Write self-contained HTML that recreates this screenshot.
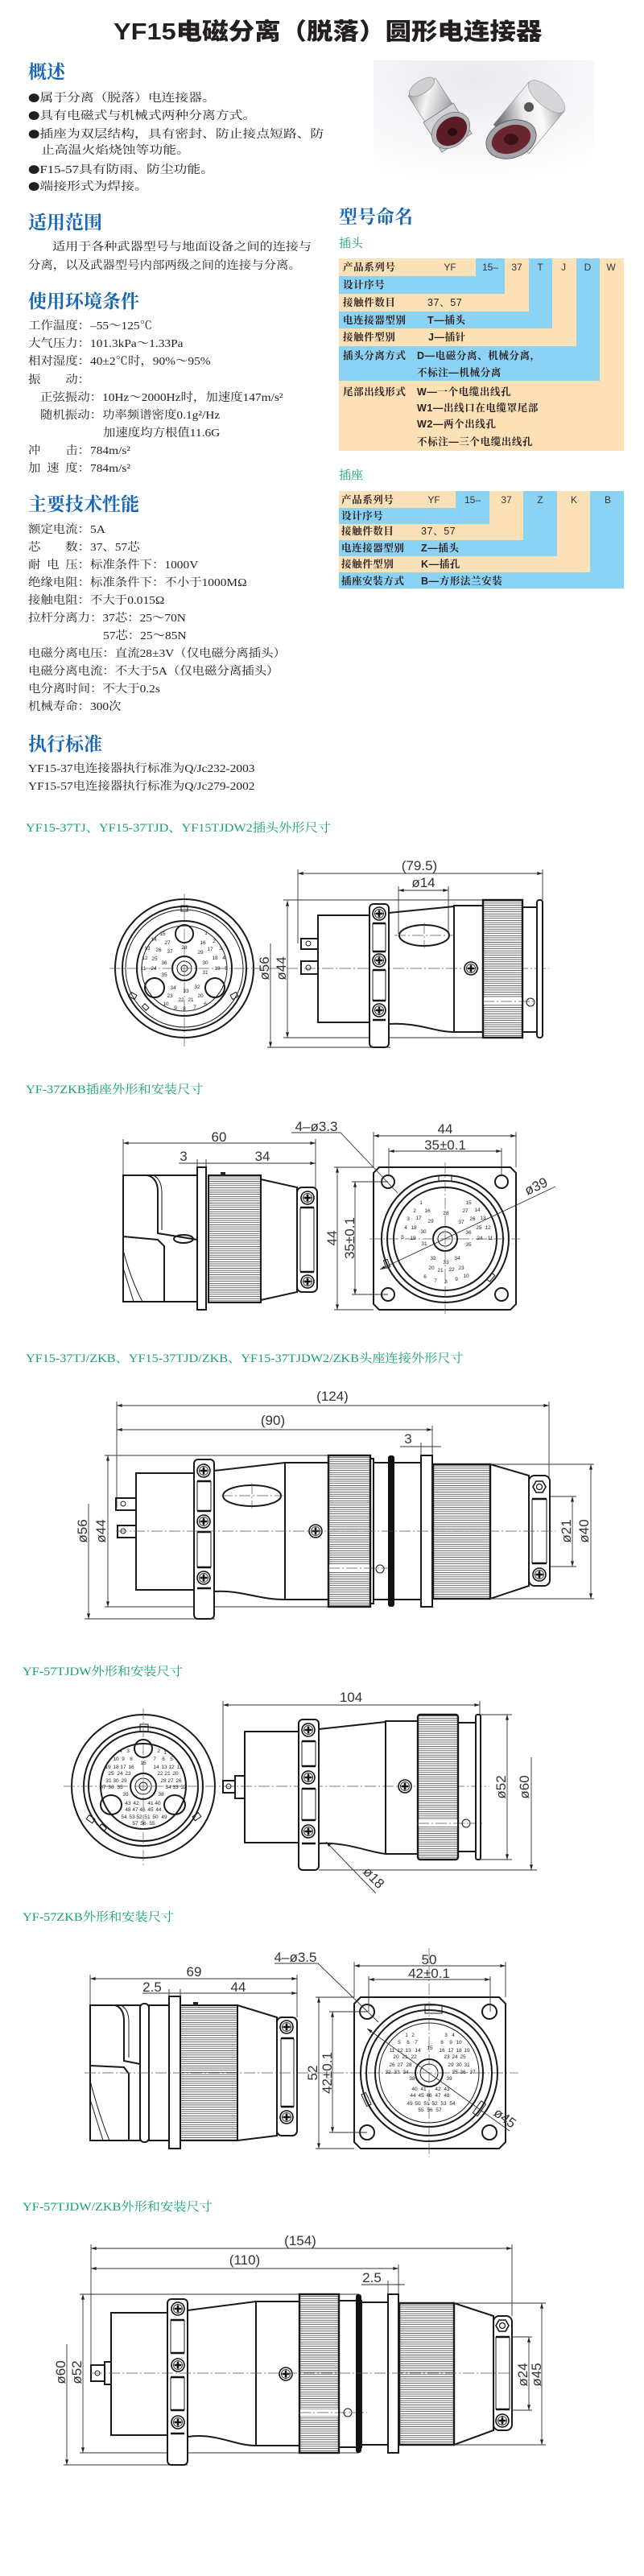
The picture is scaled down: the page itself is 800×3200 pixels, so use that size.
<!DOCTYPE html>
<html><head><meta charset="utf-8">
<style>
html,body{margin:0;padding:0;background:#fff;}
body{width:800px;height:3200px;position:relative;overflow:hidden;}
.a{position:absolute;white-space:nowrap;}
.b{font-family:"Liberation Serif","Noto Serif CJK SC",serif;font-size:14px;line-height:20px;color:#231f20;transform:scaleX(1.1);transform-origin:0 50%;}
.bl{transform:scaleX(1.2);}
.bu{font-family:"Noto Sans CJK SC",sans-serif;font-size:12px;}
.h{font-family:"Noto Serif CJK SC","Noto Sans CJK SC",serif;font-weight:700;font-size:23px;line-height:28px;color:#1767b3;}
.g{font-family:"Liberation Serif","Noto Serif CJK SC",serif;font-size:15px;line-height:20px;color:#16a36c;transform:scaleX(1.08);transform-origin:0 50%;}
.gs{font-family:"Noto Serif CJK SC",serif;font-size:15px;line-height:20px;color:#16a36c;}
.tb{font-family:"Liberation Sans","Noto Serif CJK SC",serif;font-weight:700;font-size:12.5px;line-height:20px;letter-spacing:0.6px;color:#2a2020;}
.tl{font-family:"Liberation Sans",sans-serif;font-size:12px;line-height:20px;color:#333;text-align:center;}
.O{position:absolute;background:#fde1b6;}
.B{position:absolute;background:#8ad3f5;}
svg text{font-family:"Liberation Sans",sans-serif;}
.dt{font-size:17px;fill:#333;}
.pn{font-size:6.5px;fill:#222;text-anchor:middle;}
.o{fill:none;stroke:#1a1a1a;stroke-width:2;}
.ow{fill:#fff;stroke:#1a1a1a;stroke-width:2;}
.t{fill:none;stroke:#1a1a1a;stroke-width:1;}
.d{fill:none;stroke:#333;stroke-width:0.9;}
.c{fill:none;stroke:#555;stroke-width:0.7;stroke-dasharray:14 3 2 3;}
</style></head><body>

<div class="a" style="left:141px;top:20px;font-family:'Liberation Sans','Noto Sans CJK SC',sans-serif;font-weight:900;font-size:29px;line-height:40px;color:#231f20;transform:scaleX(1.12);transform-origin:0 50%;">YF15电磁分离（脱落）圆形电连接器</div>

<div class="a h" style="left:35px;top:74px;">概述</div>
<div class="a b bl" style="left:35px;top:112px;"><span class="bu">●</span>属于分离（脱落）电连接器。</div>
<div class="a b bl" style="left:35px;top:134px;"><span class="bu">●</span>具有电磁式与机械式两种分离方式。</div>
<div class="a b bl" style="left:35px;top:157px;"><span class="bu">●</span>插座为双层结构，具有密封、防止接点短路、防</div>
<div class="a b bl" style="left:51px;top:178px;">止高温火焰烧蚀等功能。</div>
<div class="a b bl" style="left:35px;top:201px;"><span class="bu">●</span>F15-57具有防雨、防尘功能。</div>
<div class="a b bl" style="left:35px;top:222px;"><span class="bu">●</span>端接形式为焊接。</div>

<div class="a h" style="left:35px;top:261px;">适用范围</div>
<div class="a b" style="left:65px;top:298px;transform:scaleX(1.15);">适用于各种武器型号与地面设备之间的连接与</div>
<div class="a b" style="left:35px;top:321px;">分离，以及武器型号内部两级之间的连接与分离。</div>

<div class="a h" style="left:35px;top:359px;">使用环境条件</div>
<div class="a b" style="left:35px;top:396px;">工作温度：–55～125℃</div>
<div class="a b" style="left:35px;top:418px;">大气压力：101.3kPa～1.33Pa</div>
<div class="a b" style="left:35px;top:440px;">相对湿度：40±2℃时，90%～95%</div>
<div class="a b" style="left:35px;top:463px;">振　　动：</div>
<div class="a b" style="left:50px;top:485px;">正弦振动：10Hz～2000Hz时，加速度147m/s²</div>
<div class="a b" style="left:50px;top:507px;">随机振动：功率频谱密度0.1g²/Hz</div>
<div class="a b" style="left:128px;top:529px;">加速度均方根值11.6G</div>
<div class="a b" style="left:35px;top:551px;">冲　　击：784m/s²</div>
<div class="a b" style="left:35px;top:573px;">加&ensp;速&ensp;度：784m/s²</div>

<div class="a h" style="left:35px;top:611px;">主要技术性能</div>
<div class="a b" style="left:35px;top:649px;">额定电流：5A</div>
<div class="a b" style="left:35px;top:671px;">芯　　数：37、57芯</div>
<div class="a b" style="left:35px;top:693px;">耐&ensp;电&ensp;压：标准条件下：1000V</div>
<div class="a b" style="left:35px;top:715px;">绝缘电阻：标准条件下：不小于1000MΩ</div>
<div class="a b" style="left:35px;top:737px;">接触电阻：不大于0.015Ω</div>
<div class="a b" style="left:35px;top:759px;">拉杆分离力：37芯：25～70N</div>
<div class="a b" style="left:128px;top:781px;">57芯：25～85N</div>
<div class="a b" style="left:35px;top:803px;">电磁分离电压：直流28±3V（仅电磁分离插头）</div>
<div class="a b" style="left:35px;top:825px;">电磁分离电流：不大于5A（仅电磁分离插头）</div>
<div class="a b" style="left:35px;top:847px;">电分离时间：不大于0.2s</div>
<div class="a b" style="left:35px;top:869px;">机械寿命：300次</div>

<div class="a h" style="left:35px;top:909px;">执行标准</div>
<div class="a b" style="left:35px;top:946px;">YF15-37电连接器执行标准为Q/Jc232-2003</div>
<div class="a b" style="left:35px;top:968px;">YF15-57电连接器执行标准为Q/Jc279-2002</div>

<!-- 型号命名 -->
<div class="a h" style="left:421px;top:254px;">型号命名</div>
<div class="a gs" style="left:421px;top:292px;">插头</div>

<div class="O" style="left:421px;top:321px;width:170px;height:22px;"></div>
<div class="B" style="left:591px;top:321px;width:36px;height:22px;"></div>
<div class="B" style="left:421px;top:343px;width:206px;height:22px;"></div>
<div class="O" style="left:627px;top:321px;width:30px;height:44px;"></div>
<div class="O" style="left:421px;top:365px;width:236px;height:22px;"></div>
<div class="B" style="left:657px;top:321px;width:29px;height:66px;"></div>
<div class="B" style="left:421px;top:387px;width:265px;height:21px;"></div>
<div class="O" style="left:686px;top:321px;width:30px;height:87px;"></div>
<div class="O" style="left:421px;top:408px;width:295px;height:22px;"></div>
<div class="B" style="left:716px;top:321px;width:29px;height:109px;"></div>
<div class="B" style="left:421px;top:430px;width:324px;height:43px;"></div>
<div class="O" style="left:745px;top:321px;width:30px;height:152px;"></div>
<div class="O" style="left:421px;top:473px;width:354px;height:87px;"></div>

<div class="a tb" style="left:426px;top:322px;">产品系列号</div>
<div class="a tl" style="left:539px;top:322px;width:40px;">YF</div>
<div class="a tl" style="left:589px;top:322px;width:40px;">15–</div>
<div class="a tl" style="left:622px;top:322px;width:40px;">37</div>
<div class="a tl" style="left:651px;top:322px;width:40px;">T</div>
<div class="a tl" style="left:680px;top:322px;width:40px;">J</div>
<div class="a tl" style="left:710px;top:322px;width:40px;">D</div>
<div class="a tl" style="left:739px;top:322px;width:40px;">W</div>
<div class="a tb" style="left:426px;top:344px;">设计序号</div>
<div class="a tb" style="left:426px;top:366px;">接触件数目</div>
<div class="a tb" style="left:531px;top:366px;font-weight:400;">37、57</div>
<div class="a tb" style="left:426px;top:388px;">电连接器型别</div>
<div class="a tb" style="left:531px;top:388px;">T—插头</div>
<div class="a tb" style="left:426px;top:409px;">接触件型别</div>
<div class="a tb" style="left:532px;top:409px;">J—插针</div>
<div class="a tb" style="left:426px;top:432px;">插头分离方式</div>
<div class="a tb" style="left:518px;top:432px;">D—电磁分离、机械分离，</div>
<div class="a tb" style="left:518px;top:453px;">不标注—机械分离</div>
<div class="a tb" style="left:426px;top:477px;">尾部出线形式</div>
<div class="a tb" style="left:518px;top:477px;">W—一个电缆出线孔</div>
<div class="a tb" style="left:518px;top:497px;">W1—出线口在电缆罩尾部</div>
<div class="a tb" style="left:518px;top:517px;">W2—两个出线孔</div>
<div class="a tb" style="left:518px;top:539px;">不标注—三个电缆出线孔</div>

<div class="a gs" style="left:421px;top:580px;">插座</div>
<div class="O" style="left:421px;top:610px;width:145px;height:21px;"></div>
<div class="B" style="left:566px;top:610px;width:42px;height:21px;"></div>
<div class="B" style="left:421px;top:631px;width:187px;height:20px;"></div>
<div class="O" style="left:608px;top:610px;width:42px;height:41px;"></div>
<div class="O" style="left:421px;top:651px;width:229px;height:20px;"></div>
<div class="B" style="left:650px;top:610px;width:42px;height:61px;"></div>
<div class="B" style="left:421px;top:671px;width:271px;height:20px;"></div>
<div class="O" style="left:692px;top:610px;width:41px;height:81px;"></div>
<div class="O" style="left:421px;top:691px;width:312px;height:20px;"></div>
<div class="B" style="left:733px;top:610px;width:42px;height:101px;"></div>
<div class="B" style="left:421px;top:711px;width:354px;height:20px;"></div>

<div class="a tb" style="left:424px;top:611px;">产品系列号</div>
<div class="a tl" style="left:519px;top:611px;width:40px;">YF</div>
<div class="a tl" style="left:567px;top:611px;width:40px;">15–</div>
<div class="a tl" style="left:609px;top:611px;width:40px;">37</div>
<div class="a tl" style="left:651px;top:611px;width:40px;">Z</div>
<div class="a tl" style="left:693px;top:611px;width:40px;">K</div>
<div class="a tl" style="left:735px;top:611px;width:40px;">B</div>
<div class="a tb" style="left:424px;top:631px;">设计序号</div>
<div class="a tb" style="left:424px;top:650px;">接触件数目</div>
<div class="a tb" style="left:523px;top:650px;font-weight:400;">37、57</div>
<div class="a tb" style="left:424px;top:671px;">电连接器型别</div>
<div class="a tb" style="left:523px;top:671px;">Z—插头</div>
<div class="a tb" style="left:424px;top:691px;">接触件型别</div>
<div class="a tb" style="left:523px;top:691px;">K—插孔</div>
<div class="a tb" style="left:424px;top:712px;">插座安装方式</div>
<div class="a tb" style="left:523px;top:712px;">B—方形法兰安装</div>

<!-- captions -->
<div class="a g" style="left:32px;top:1019px;">YF15-37TJ、YF15-37TJD、YF15TJDW2插头外形尺寸</div>
<div class="a g" style="left:32px;top:1344px;">YF-37ZKB插座外形和安装尺寸</div>
<div class="a g" style="left:32px;top:1678px;">YF15-37TJ/ZKB、YF15-37TJD/ZKB、YF15-37TJDW2/ZKB头座连接外形尺寸</div>
<div class="a g" style="left:28px;top:2067px;">YF-57TJDW外形和安装尺寸</div>
<div class="a g" style="left:28px;top:2372px;">YF-57ZKB外形和安装尺寸</div>
<div class="a g" style="left:28px;top:2732px;">YF-57TJDW/ZKB外形和安装尺寸</div>

<!-- photo -->
<svg style="position:absolute;left:464px;top:75px" width="274" height="147" xmlns="http://www.w3.org/2000/svg">
<defs>
<radialGradient id="pbg" cx="0.45" cy="0.15" r="0.9"><stop offset="0" stop-color="#e9e8ee"/><stop offset="0.5" stop-color="#f5f5f8"/><stop offset="1" stop-color="#ffffff"/></radialGradient>
<linearGradient id="pm1" x1="0" y1="0" x2="1" y2="0.3"><stop offset="0" stop-color="#8a8a8e"/><stop offset=".4" stop-color="#f4f4f4"/><stop offset=".75" stop-color="#b4b4b8"/><stop offset="1" stop-color="#6e6e72"/></linearGradient>
<linearGradient id="pm2" x1="0" y1="0.2" x2="1" y2="0"><stop offset="0" stop-color="#707074"/><stop offset=".35" stop-color="#e9e9ec"/><stop offset=".6" stop-color="#fafafa"/><stop offset="1" stop-color="#8a8a90"/></linearGradient>
</defs>
<rect width="274" height="147" fill="url(#pbg)"/>
<polygon points="43,44 77,22 112,76 78,98" fill="url(#pm1)" stroke="#777" stroke-width="0.6"/>
<polygon points="99,53 122,91 85,114 62,77" fill="#d4d4d8" stroke="#777" stroke-width="0.8"/>
<ellipse cx="96" cy="87" rx="26" ry="20" transform="rotate(-40 96 87)" fill="#b5b5ba" stroke="#666" stroke-width="0.6"/>
<ellipse cx="97" cy="88" rx="21" ry="16" transform="rotate(-40 97 88)" fill="#5c1c26"/>
<ellipse cx="98" cy="89" rx="6" ry="5" fill="#2a0d10"/>
<ellipse cx="60" cy="33" rx="18" ry="8" transform="rotate(-33 60 33)" fill="#cfcfd3" stroke="#888" stroke-width="0.6"/>
<polygon points="149,80 193,27 237,63 193,116" fill="url(#pm2)" stroke="#888" stroke-width="0.6"/>
<ellipse cx="215" cy="45" rx="28" ry="12" transform="rotate(40 215 45)" fill="#d6d6da" stroke="#999" stroke-width="0.6"/>
<ellipse cx="171" cy="98" rx="32" ry="23" transform="rotate(-20 171 98)" fill="#a4a4aa" stroke="#555" stroke-width="0.8"/>
<ellipse cx="171" cy="98" rx="25" ry="17" transform="rotate(-20 171 98)" fill="#6a2630"/>
<ellipse cx="171" cy="98" rx="9" ry="7" fill="#3a1418"/>
<circle cx="193" cy="58" r="6" fill="#555"/>
</svg>

<!-- drawings -->
<svg style="position:absolute;left:0;top:0" width="800" height="3200" xmlns="http://www.w3.org/2000/svg">
<defs>
<marker id="ar" viewBox="0 0 10 6" refX="10" refY="3" markerWidth="8" markerHeight="4" markerUnits="userSpaceOnUse" orient="auto-start-reverse"><path d="M0,0L10,3L0,6z" fill="#222"/></marker>
<pattern id="kn" width="6" height="2.7" patternUnits="userSpaceOnUse"><rect width="6" height="2.7" fill="#fff"/><line x1="0" y1="1.3" x2="6" y2="1.3" stroke="#444" stroke-width="0.8"/></pattern>
<g id="sc"><circle r="8" fill="#fff" stroke="#111" stroke-width="1.6"/><circle r="5.5" fill="none" stroke="#111" stroke-width="0.8"/><path d="M-4.5,0H4.5M0,-4.5V4.5" stroke="#111" stroke-width="2.6"/></g>
<g id="hx"><polygon points="-8,0 -4,-7 4,-7 8,0 4,7 -4,7" fill="#fff" stroke="#111" stroke-width="1.6"/><circle r="3.5" fill="none" stroke="#111" stroke-width="1.2"/></g>
</defs>

<!-- ===== Drawing 1 ===== -->
<g>
<circle cx="229" cy="1203" r="86" class="o"/>
<circle cx="229" cy="1203" r="77" class="o" stroke-width="1.5"/>
<circle cx="229" cy="1203" r="73" class="t"/>
<circle cx="229" cy="1203" r="59" class="o"/>
<circle cx="229" cy="1203" r="53" class="t"/>
<circle cx="229" cy="1160" r="11" class="o" stroke-width="1.5"/>
<circle cx="192" cy="1227" r="12" class="o" stroke-width="1.5"/>
<circle cx="267" cy="1227" r="12" class="o" stroke-width="1.5"/>
<circle cx="229" cy="1203" r="15" class="o" stroke-width="4"/>
<circle cx="229" cy="1203" r="9" class="t" stroke-width="1.2"/>
<circle cx="229" cy="1203" r="4" class="t"/>
<rect x="225" y="1125" width="8" height="7" class="t" stroke-width="1.3"/>
<rect x="162" y="1233" width="6" height="8" class="t" transform="rotate(-60 165 1237)"/>
<rect x="288" y="1233" width="6" height="8" class="t" transform="rotate(60 291 1237)"/>
<rect x="178" y="1248" width="5" height="7" class="t" transform="rotate(-45 180 1251)"/>
<line x1="136" y1="1203" x2="682" y2="1203" class="c"/>
<line x1="229" y1="1110" x2="229" y2="1300" class="c"/>
<g class="pn">
<text x="202" y="1162">15</text><text x="256" y="1161">1</text><text x="191" y="1169">14</text><text x="266" y="1171">2</text>
<text x="183" y="1180">13</text><text x="274" y="1180">3</text><text x="180" y="1192">12</text><text x="278" y="1192">4</text>
<text x="178" y="1205">11</text><text x="281" y="1205">5</text><text x="206" y="1249">10</text><text x="218" y="1254">9</text>
<text x="229" y="1255">8</text><text x="242" y="1253">7</text><text x="255" y="1249">6</text>
<text x="208" y="1173">27</text><text x="252" y="1173">16</text><text x="197" y="1182">26</text><text x="261" y="1181">17</text>
<text x="192" y="1193">25</text><text x="267" y="1192">18</text><text x="191" y="1205">24</text><text x="270" y="1205">19</text>
<text x="211" y="1239">23</text><text x="225" y="1244">22</text><text x="237" y="1244">21</text><text x="249" y="1239">20</text>
<text x="229" y="1179">28</text><text x="211" y="1184">37</text><text x="249" y="1185">29</text><text x="204" y="1198">36</text>
<text x="255" y="1198">30</text><text x="204" y="1213">35</text><text x="255" y="1210">31</text><text x="215" y="1229">34</text>
<text x="231" y="1233">33</text><text x="245" y="1228">32</text>
</g>
<!-- side view -->
<line x1="370" y1="1085" x2="674" y2="1085" class="d" marker-start="url(#ar)" marker-end="url(#ar)"/>
<line x1="370" y1="1080" x2="370" y2="1172" class="d"/>
<line x1="674" y1="1080" x2="674" y2="1118" class="d"/>
<text x="521" y="1081" class="dt" text-anchor="middle" font-size="18">(79.5)</text>
<line x1="495" y1="1106" x2="557" y2="1106" class="d" marker-start="url(#ar)" marker-end="url(#ar)"/>
<line x1="495" y1="1101" x2="495" y2="1160" class="d"/>
<line x1="557" y1="1101" x2="557" y2="1160" class="d"/>
<text x="526" y="1102" class="dt" text-anchor="middle">ø14</text>
<line x1="336" y1="1172" x2="336" y2="1301" class="d" marker-end="url(#ar)"/>
<line x1="357" y1="1119" x2="357" y2="1289" class="d" marker-start="url(#ar)" marker-end="url(#ar)"/>
<text transform="translate(334,1203) rotate(-90)" class="dt" text-anchor="middle">ø56</text>
<text transform="translate(355,1203) rotate(-90)" class="dt" text-anchor="middle">ø44</text>
<line x1="352" y1="1118" x2="600" y2="1118" class="d"/>
<line x1="352" y1="1289" x2="600" y2="1289" class="d"/>
<line x1="332" y1="1301" x2="485" y2="1301" class="d"/>
<rect x="374" y="1166" width="21" height="13" class="o" stroke-width="1.5"/>
<circle cx="383" cy="1172" r="3" class="t"/>
<rect x="374" y="1194" width="21" height="16" class="o" stroke-width="1.5"/>
<circle cx="383" cy="1202" r="3" class="t"/>
<rect x="395" y="1137" width="65" height="133" class="o"/>
<path d="M483,1134 L564,1126 M483,1272 C520,1270 540,1282 564,1282" class="o"/>
<ellipse cx="527" cy="1162" rx="31" ry="13" class="o"/>
<line x1="490" y1="1162" x2="564" y2="1162" class="c"/>
<line x1="527" y1="1146" x2="527" y2="1178" class="c"/>
<rect x="564" y="1125" width="36" height="157" class="o"/>
<use href="#sc" x="585" y="1203"/>
<rect x="600" y="1118" width="49" height="171" fill="url(#kn)" stroke="#1a1a1a" stroke-width="2.4"/>
<rect x="601" y="1240" width="47" height="8" fill="#fff"/>
<line x1="600" y1="1244" x2="668" y2="1244" class="c"/>
<circle cx="659" cy="1245" r="5" class="t" fill="#fff"/>
<rect x="649" y="1127" width="18" height="155" class="o"/>
<rect x="667" y="1118" width="7" height="171" rx="3" class="ow"/>
<rect x="459" y="1123" width="24" height="178" rx="5" class="ow"/>
<path d="M463,1147 H479 M463,1182 H479 M463,1205 H479 M463,1243 H479 M463,1267 H479" stroke="#111" stroke-width="2.5"/>
<path d="M463,1147 V1182 M479,1147 V1182 M463,1205 V1243 M479,1205 V1243" class="t"/>
<use href="#sc" x="471" y="1135"/><use href="#sc" x="471" y="1193"/><use href="#sc" x="471" y="1255"/>
</g>

<!-- ===== Drawing 2 ===== -->
<g>
<line x1="153" y1="1420" x2="392" y2="1420" class="d" marker-start="url(#ar)" marker-end="url(#ar)"/>
<line x1="153" y1="1415" x2="153" y2="1460" class="d"/>
<line x1="392" y1="1415" x2="392" y2="1475" class="d"/>
<text x="272" y="1418" class="dt" text-anchor="middle">60</text>
<line x1="222" y1="1445" x2="392" y2="1445" class="d" marker-end="url(#ar)"/>
<line x1="245" y1="1440" x2="245" y2="1450" class="d"/>
<line x1="256" y1="1440" x2="256" y2="1450" class="d"/>
<text x="228" y="1442" class="dt" text-anchor="middle">3</text>
<text x="326" y="1442" class="dt" text-anchor="middle">34</text>
<rect x="153" y="1460" width="92" height="157" class="o"/>
<path d="M183,1460 C192,1462 196,1470 196,1480 L196,1532 L245,1540" class="o" stroke-width="1.5"/>
<path d="M190,1460 C198,1463 201,1472 201,1482 L201,1528" class="t"/>
<path d="M153,1536 L196,1540 L204,1548 L204,1617" class="o" stroke-width="1.5"/>
<path d="M153,1553 C160,1580 168,1600 177,1617" class="t"/>
<path d="M153,1575 L166,1617" class="t"/>
<ellipse cx="228" cy="1539" rx="12" ry="5" class="o" stroke-width="1.5"/>
<rect x="245" y="1450" width="11" height="177" class="ow"/>
<rect x="259" y="1460" width="65" height="158" fill="url(#kn)" stroke="#1a1a1a" stroke-width="2"/>
<rect x="274" y="1456" width="6" height="4" fill="#222"/>
<polygon points="324,1465 369,1475 369,1605 324,1615" class="o"/>
<rect x="369" y="1475" width="25" height="130" rx="6" class="ow"/>
<path d="M373,1500 V1580 M390,1500 V1580" class="t"/>
<path d="M373,1500 H390 M373,1580 H390" stroke="#111" stroke-width="2.5"/>
<use href="#sc" x="382" y="1488"/><use href="#sc" x="382" y="1592"/>
<!-- front -->
<polygon points="471,1450 634,1450 641,1457 641,1620 634,1627 471,1627 464,1620 464,1457" class="o"/>
<circle cx="482" cy="1468" r="8" class="o" stroke-width="1.5"/>
<circle cx="623" cy="1468" r="8" class="o" stroke-width="1.5"/>
<circle cx="482" cy="1608" r="8" class="o" stroke-width="1.5"/>
<circle cx="623" cy="1608" r="8" class="o" stroke-width="1.5"/>
<circle cx="553" cy="1539" r="79" class="o"/>
<circle cx="553" cy="1539" r="72" class="o" stroke-width="1.5"/>
<circle cx="553" cy="1539" r="64" class="o" stroke-width="1.5"/>
<rect x="545" y="1460" width="16" height="7" class="t" fill="#fff" stroke-width="1.3"/>
<rect x="478" y="1565" width="5" height="10" class="t" transform="rotate(-20 480 1570)"/>
<rect x="607" y="1582" width="5" height="10" class="t" transform="rotate(40 610 1587)"/>
<circle cx="553" cy="1539" r="15" class="o" stroke-width="5"/>
<circle cx="553" cy="1539" r="9" class="t"/>
<line x1="459" y1="1539" x2="646" y2="1539" class="c"/>
<line x1="553" y1="1444" x2="553" y2="1632" class="c"/>
<g class="pn">
<text x="523" y="1496">1</text><text x="582" y="1496">15</text><text x="515" y="1506">2</text><text x="531" y="1506">16</text>
<text x="554" y="1509">28</text><text x="578" y="1506">27</text><text x="593" y="1505">14</text><text x="507" y="1516">3</text>
<text x="520" y="1515">17</text><text x="535" y="1519">29</text><text x="573" y="1520">37</text><text x="587" y="1516">26</text>
<text x="600" y="1515">13</text><text x="504" y="1527">4</text><text x="514" y="1527">18</text><text x="526" y="1532">30</text>
<text x="582" y="1533">36</text><text x="595" y="1527">25</text><text x="606" y="1527">12</text><text x="500" y="1539">5</text>
<text x="513" y="1540">19</text><text x="527" y="1547">31</text><text x="596" y="1540">24</text><text x="609" y="1540">11</text>
<text x="582" y="1548">35</text><text x="538" y="1565">32</text><text x="554" y="1570">33</text><text x="568" y="1565">34</text>
<text x="536" y="1577">20</text><text x="547" y="1580">21</text><text x="561" y="1579">22</text><text x="573" y="1577">23</text>
<text x="528" y="1588">6</text><text x="541" y="1593">7</text><text x="554" y="1594">8</text><text x="567" y="1591">9</text><text x="579" y="1587">10</text>
</g>
<text x="393" y="1405" class="dt" text-anchor="middle" font-size="18">4–ø3.3</text>
<path d="M362,1407 H423 L494,1482" class="d"/>
<line x1="464" y1="1411" x2="641" y2="1411" class="d" marker-start="url(#ar)" marker-end="url(#ar)"/>
<line x1="464" y1="1406" x2="464" y2="1450" class="d"/>
<line x1="641" y1="1406" x2="641" y2="1450" class="d"/>
<text x="553" y="1408" class="dt" text-anchor="middle" font-size="18">44</text>
<line x1="483" y1="1430" x2="623" y2="1430" class="d" marker-start="url(#ar)" marker-end="url(#ar)"/>
<line x1="483" y1="1426" x2="483" y2="1460" class="d"/>
<line x1="623" y1="1426" x2="623" y2="1460" class="d"/>
<text x="553" y="1428" class="dt" text-anchor="middle" font-size="18">35±0.1</text>
<line x1="472" y1="1577" x2="690" y2="1474" class="d" marker-start="url(#ar)"/>
<text transform="translate(655,1485) rotate(-25)" class="dt" font-size="18">ø39</text>
<line x1="419" y1="1450" x2="419" y2="1627" class="d" marker-start="url(#ar)" marker-end="url(#ar)"/>
<line x1="415" y1="1450" x2="464" y2="1450" class="d"/>
<line x1="415" y1="1627" x2="464" y2="1627" class="d"/>
<text transform="translate(418,1538) rotate(-90)" class="dt" text-anchor="middle" font-size="18">44</text>
<line x1="441" y1="1468" x2="441" y2="1608" class="d" marker-start="url(#ar)" marker-end="url(#ar)"/>
<line x1="437" y1="1468" x2="482" y2="1468" class="d"/>
<line x1="437" y1="1608" x2="482" y2="1608" class="d"/>
<text transform="translate(440,1538) rotate(-90)" class="dt" text-anchor="middle" font-size="18">35±0.1</text>
</g>

<!-- ===== Drawing 3 ===== -->
<g>
<line x1="145" y1="1746" x2="682" y2="1746" class="d" marker-start="url(#ar)" marker-end="url(#ar)"/>
<text x="413" y="1740" class="dt" text-anchor="middle" font-size="18">(124)</text>
<line x1="145" y1="1776" x2="537" y2="1776" class="d" marker-start="url(#ar)" marker-end="url(#ar)"/>
<text x="339" y="1770" class="dt" text-anchor="middle" font-size="18">(90)</text>
<line x1="145" y1="1741" x2="145" y2="1873" class="d"/>
<line x1="682" y1="1741" x2="682" y2="1843" class="d"/>
<line x1="537" y1="1771" x2="537" y2="1808" class="d"/>
<line x1="497" y1="1797" x2="548" y2="1797" class="d"/>
<line x1="523" y1="1792" x2="523" y2="1808" class="d"/>
<text x="507" y="1793" class="dt" text-anchor="middle">3</text>
<line x1="110" y1="1868" x2="110" y2="2011" class="d" marker-end="url(#ar)"/>
<line x1="134" y1="1808" x2="134" y2="1996" class="d" marker-start="url(#ar)" marker-end="url(#ar)"/>
<text transform="translate(108,1902) rotate(-90)" class="dt" text-anchor="middle" font-size="18">ø56</text>
<text transform="translate(131,1902) rotate(-90)" class="dt" text-anchor="middle" font-size="18">ø44</text>
<line x1="130" y1="1808" x2="410" y2="1808" class="d"/>
<line x1="130" y1="1996" x2="410" y2="1996" class="d"/>
<line x1="105" y1="2011" x2="267" y2="2011" class="d"/>
<rect x="144" y="1861" width="25" height="15" class="o" stroke-width="1.5"/>
<circle cx="153" cy="1868" r="3" class="t"/>
<rect x="146" y="1895" width="23" height="15" class="o" stroke-width="1.5"/>
<circle cx="153" cy="1902" r="3" class="t"/>
<rect x="169" y="1830" width="72" height="145" class="o"/>
<path d="M266,1827 L354,1817 M266,1977 C300,1975 320,1987 354,1987" class="o"/>
<ellipse cx="313" cy="1858" rx="36" ry="13" class="o"/>
<line x1="275" y1="1858" x2="352" y2="1858" class="c"/>
<line x1="313" y1="1842" x2="313" y2="1874" class="c"/>
<rect x="354" y="1817" width="54" height="170" class="o"/>
<use href="#sc" x="392" y="1902"/>
<rect x="408" y="1808" width="52" height="188" fill="url(#kn)" stroke="#1a1a1a" stroke-width="2.4"/>
<rect x="409" y="1944" width="50" height="8" fill="#fff"/>
<line x1="408" y1="1948" x2="486" y2="1948" class="c"/>
<rect x="460" y="1812" width="4" height="180" class="o" stroke-width="1.5"/>
<rect x="464" y="1817" width="59" height="170" class="o"/>
<rect x="482" y="1808" width="8" height="188" rx="3" fill="#111"/>
<circle cx="472" cy="1949" r="5" class="t" fill="#fff"/>
<rect x="523" y="1808" width="14" height="188" class="ow"/>
<rect x="538" y="1819" width="71" height="167" fill="url(#kn)" stroke="#1a1a1a" stroke-width="2.4"/>
<polygon points="609,1819 657,1833 657,1970 609,1986" class="o"/>
<rect x="657" y="1833" width="26" height="137" rx="7" class="ow"/>
<path d="M661,1862 V1942 M679,1862 V1942" class="t"/>
<path d="M661,1862 H679 M661,1942 H679" stroke="#111" stroke-width="2.5"/>
<use href="#hx" x="670" y="1847"/><use href="#sc" x="670" y="1956"/>
<rect x="241" y="1813" width="25" height="198" rx="5" class="ow"/>
<path d="M245,1840 H262 M245,1877 H262 M245,1903 H262 M245,1947 H262 M245,1973 H262" stroke="#111" stroke-width="2.5"/>
<path d="M245,1840 V1877 M262,1840 V1877 M245,1903 V1947 M262,1903 V1947" class="t"/>
<use href="#sc" x="253" y="1827"/><use href="#sc" x="253" y="1890"/><use href="#sc" x="253" y="1960"/>
<line x1="144" y1="1902" x2="690" y2="1902" class="c"/>
<line x1="711" y1="1859" x2="711" y2="1946" class="d" marker-start="url(#ar)" marker-end="url(#ar)"/>
<line x1="734" y1="1819" x2="734" y2="1986" class="d" marker-start="url(#ar)" marker-end="url(#ar)"/>
<line x1="683" y1="1859" x2="716" y2="1859" class="d"/>
<line x1="683" y1="1946" x2="716" y2="1946" class="d"/>
<line x1="609" y1="1819" x2="738" y2="1819" class="d"/>
<line x1="609" y1="1986" x2="738" y2="1986" class="d"/>
<text transform="translate(709,1902) rotate(-90)" class="dt" text-anchor="middle" font-size="18">ø21</text>
<text transform="translate(731,1902) rotate(-90)" class="dt" text-anchor="middle" font-size="18">ø40</text>
</g>

<!-- ===== Drawing 4 ===== -->
<g>
<circle cx="178" cy="2219" r="89" class="o"/>
<circle cx="178" cy="2219" r="74" class="o" stroke-width="1.5"/>
<circle cx="178" cy="2219" r="68" class="o" stroke-width="1.5"/>
<circle cx="178" cy="2219" r="53" class="o"/>
<rect x="174" y="2142" width="10" height="9" class="t" stroke-width="1.3"/>
<path d="M168,2151 H188" class="t"/>
<circle cx="178" cy="2172" r="11" class="o" stroke-width="1.5"/>
<ellipse cx="138" cy="2242" rx="13" ry="12" class="o" stroke-width="1.5"/>
<ellipse cx="217" cy="2242" rx="13" ry="12" class="o" stroke-width="1.5"/>
<circle cx="178" cy="2219" r="16" class="o" stroke-width="4"/>
<circle cx="178" cy="2219" r="10" class="t" stroke-width="1.2"/>
<circle cx="178" cy="2219" r="5" class="t"/>
<rect x="110" y="2255" width="6" height="9" class="t" transform="rotate(-55 113 2260)"/>
<rect x="125" y="2266" width="5" height="8" class="t" transform="rotate(-45 128 2270)"/>
<rect x="241" y="2252" width="6" height="9" class="t" transform="rotate(55 244 2257)"/>
<line x1="79" y1="2219" x2="608" y2="2219" class="c"/>
<line x1="178" y1="2122" x2="178" y2="2318" class="c"/>
<g class="pn">
<text x="150" y="2177">4</text><text x="159" y="2177">3</text><text x="197" y="2177">2</text><text x="205" y="2179">1</text>
<text x="144" y="2187">10</text><text x="153" y="2187">9</text><text x="163" y="2187">8</text><text x="192" y="2187">7</text><text x="203" y="2187">6</text><text x="213" y="2187">5</text>
<text x="178" y="2192">15</text>
<text x="134" y="2197">19</text><text x="144" y="2197">18</text><text x="153" y="2197">17</text><text x="163" y="2197">16</text>
<text x="194" y="2197">14</text><text x="204" y="2197">13</text><text x="213" y="2197">12</text><text x="223" y="2197">11</text>
<text x="138" y="2205">25</text><text x="149" y="2205">24</text><text x="159" y="2205">23</text><text x="199" y="2205">22</text><text x="208" y="2205">21</text><text x="218" y="2205">20</text>
<text x="135" y="2214">31</text><text x="144" y="2214">30</text><text x="154" y="2214">29</text><text x="203" y="2214">28</text><text x="212" y="2214">27</text><text x="222" y="2214">26</text>
<text x="128" y="2222">37</text><text x="138" y="2222">36</text><text x="149" y="2222">35</text><text x="209" y="2222">34</text><text x="218" y="2222">33</text><text x="228" y="2222">32</text>
<text x="156" y="2231">39</text><text x="200" y="2231">38</text>
<text x="159" y="2242">43</text><text x="169" y="2242">42</text><text x="187" y="2242">41</text><text x="196" y="2242">40</text>
<text x="159" y="2250">48</text><text x="168" y="2250">47</text><text x="177" y="2250">46</text><text x="187" y="2250">45</text><text x="197" y="2250">44</text>
<text x="154" y="2259">54</text><text x="164" y="2259">53</text><text x="173" y="2259">52</text><text x="183" y="2259">51</text><text x="193" y="2259">50</text><text x="204" y="2259">49</text>
<text x="168" y="2267">57</text><text x="178" y="2267">56</text><text x="189" y="2267">55</text>
</g>
<line x1="277" y1="2118" x2="596" y2="2118" class="d" marker-start="url(#ar)" marker-end="url(#ar)"/>
<line x1="277" y1="2113" x2="277" y2="2212" class="d"/>
<line x1="596" y1="2113" x2="596" y2="2130" class="d"/>
<text x="436" y="2114" class="dt" text-anchor="middle">104</text>
<rect x="277" y="2212" width="15" height="15" class="o" stroke-width="1.5"/>
<circle cx="284" cy="2219" r="3" class="t"/>
<rect x="292" y="2206" width="12" height="28" class="o" stroke-width="1.5"/>
<rect x="304" y="2151" width="67" height="138" class="o"/>
<path d="M396,2148 L479,2139 M396,2290 C430,2288 455,2300 479,2303" class="o"/>
<rect x="479" y="2138" width="40" height="165" class="o"/>
<use href="#sc" x="503" y="2219"/>
<rect x="519" y="2130" width="50" height="180" rx="3" fill="url(#kn)" stroke="#1a1a1a" stroke-width="2.4"/>
<rect x="520" y="2261" width="48" height="8" fill="#fff"/>
<line x1="519" y1="2265" x2="600" y2="2265" class="c"/>
<rect x="569" y="2140" width="22" height="160" class="o"/>
<circle cx="579" cy="2265" r="5" class="t" fill="#fff"/>
<rect x="591" y="2130" width="6" height="180" rx="2" class="ow"/>
<rect x="371" y="2136" width="25" height="187" rx="5" class="ow"/>
<path d="M375,2163 H392 M375,2194 H392 M375,2222 H392 M375,2261 H392 M375,2290 H392" stroke="#111" stroke-width="2.5"/>
<path d="M375,2163 V2194 M392,2163 V2194 M375,2222 V2261 M392,2222 V2261" class="t"/>
<use href="#sc" x="383" y="2149"/><use href="#sc" x="383" y="2208"/><use href="#sc" x="383" y="2275"/>
<line x1="630" y1="2130" x2="630" y2="2310" class="d" marker-start="url(#ar)" marker-end="url(#ar)"/>
<line x1="660" y1="2183" x2="660" y2="2323" class="d" marker-end="url(#ar)"/>
<line x1="597" y1="2130" x2="636" y2="2130" class="d"/>
<line x1="597" y1="2310" x2="636" y2="2310" class="d"/>
<line x1="396" y1="2323" x2="667" y2="2323" class="d"/>
<text transform="translate(628,2220) rotate(-90)" class="dt" text-anchor="middle" font-size="18">ø52</text>
<text transform="translate(657,2220) rotate(-90)" class="dt" text-anchor="middle" font-size="18">ø60</text>
<line x1="405" y1="2288" x2="467" y2="2352" class="d" marker-start="url(#ar)"/>
<text transform="translate(450,2326) rotate(46)" class="dt" font-size="16">ø18</text>
</g>

<!-- ===== Drawing 5 ===== -->
<g>
<line x1="112" y1="2458" x2="369" y2="2458" class="d" marker-start="url(#ar)" marker-end="url(#ar)"/>
<text x="241" y="2455" class="dt" text-anchor="middle">69</text>
<line x1="177" y1="2476" x2="369" y2="2476" class="d" marker-end="url(#ar)"/>
<text x="189" y="2474" class="dt" text-anchor="middle">2.5</text>
<text x="296" y="2474" class="dt" text-anchor="middle">44</text>
<line x1="112" y1="2453" x2="112" y2="2491" class="d"/>
<line x1="369" y1="2453" x2="369" y2="2506" class="d"/>
<line x1="210" y1="2471" x2="210" y2="2480" class="d"/>
<line x1="224" y1="2471" x2="224" y2="2480" class="d"/>
<rect x="112" y="2491" width="62" height="168" class="o"/>
<path d="M143,2491 C150,2493 154,2500 154,2510 L154,2560 L174,2564" class="o" stroke-width="1.5"/>
<path d="M150,2491 C157,2494 160,2502 160,2512 L160,2556" class="t"/>
<path d="M112,2566 L154,2568 L160,2576 L160,2659" class="o" stroke-width="1.5"/>
<path d="M112,2585 C120,2615 128,2640 136,2659" class="t"/>
<path d="M112,2608 L128,2659" class="t"/>
<rect x="174" y="2489" width="11" height="172" rx="5" class="ow"/>
<rect x="185" y="2491" width="25" height="168" class="o"/>
<rect x="210" y="2480" width="14" height="189" class="ow"/>
<rect x="224" y="2491" width="71" height="168" fill="url(#kn)" stroke="#1a1a1a" stroke-width="2"/>
<rect x="240" y="2487" width="6" height="4" fill="#222"/>
<polygon points="295,2491 344,2506 344,2653 295,2659" class="o"/>
<rect x="344" y="2506" width="25" height="147" rx="6" class="ow"/>
<path d="M349,2532 V2617 M365,2532 V2617" class="t"/>
<path d="M349,2532 H365 M349,2617 H365" stroke="#111" stroke-width="2.5"/>
<use href="#sc" x="356" y="2518"/><use href="#sc" x="356" y="2630"/>
<line x1="105" y1="2575" x2="644" y2="2575" class="c"/>
<polygon points="448,2481 620,2481 628,2489 628,2661 620,2669 448,2669 440,2661 440,2489" class="o"/>
<circle cx="456" cy="2499" r="9" class="o" stroke-width="1.5"/>
<circle cx="608" cy="2499" r="9" class="o" stroke-width="1.5"/>
<circle cx="456" cy="2649" r="9" class="o" stroke-width="1.5"/>
<circle cx="608" cy="2649" r="9" class="o" stroke-width="1.5"/>
<circle cx="533" cy="2575" r="85" class="o"/>
<circle cx="533" cy="2575" r="78" class="o" stroke-width="1.3"/>
<circle cx="533" cy="2575" r="67" class="o"/>
<circle cx="533" cy="2575" r="62" class="t"/>
<rect x="528" y="2491" width="21" height="10" class="t" fill="#fff" stroke-width="1.3"/>
<rect x="592" y="2610" width="7" height="18" class="t" transform="rotate(35 595 2619)"/>
<rect x="452" y="2600" width="6" height="16" class="t" transform="rotate(-25 455 2608)"/>
<circle cx="533" cy="2575" r="17" class="o" stroke-width="4"/>
<circle cx="533" cy="2575" r="11" class="t" stroke-width="1.2"/>
<line x1="533" y1="2420" x2="533" y2="2680" class="c"/>
<g class="pn">
<text x="505" y="2530">1</text><text x="513" y="2530">2</text><text x="554" y="2530">3</text><text x="563" y="2530">4</text>
<text x="496" y="2539">5</text><text x="507" y="2539">6</text><text x="517" y="2539">7</text><text x="549" y="2539">8</text><text x="560" y="2539">9</text><text x="570" y="2539">10</text>
<text x="487" y="2549">11</text><text x="497" y="2549">12</text><text x="507" y="2549">13</text><text x="519" y="2549">14</text><text x="534" y="2546">15</text>
<text x="549" y="2549">16</text><text x="560" y="2549">17</text><text x="570" y="2549">18</text><text x="580" y="2549">19</text>
<text x="492" y="2557">20</text><text x="503" y="2557">21</text><text x="514" y="2557">22</text><text x="555" y="2557">23</text><text x="565" y="2557">24</text><text x="575" y="2557">25</text>
<text x="487" y="2567">26</text><text x="497" y="2567">27</text><text x="508" y="2567">28</text><text x="560" y="2567">29</text><text x="570" y="2567">30</text><text x="580" y="2567">31</text>
<text x="482" y="2576">32</text><text x="493" y="2576">33</text><text x="504" y="2576">34</text><text x="565" y="2576">35</text><text x="575" y="2576">36</text><text x="587" y="2576">37</text>
<text x="512" y="2584">38</text><text x="558" y="2584">39</text>
<text x="515" y="2597">40</text><text x="526" y="2597">41</text><text x="544" y="2597">42</text><text x="555" y="2597">43</text>
<text x="513" y="2605">44</text><text x="523" y="2605">45</text><text x="533" y="2605">46</text><text x="544" y="2605">47</text><text x="555" y="2605">48</text>
<text x="509" y="2615">49</text><text x="519" y="2615">50</text><text x="530" y="2615">51</text><text x="540" y="2615">52</text><text x="551" y="2615">53</text><text x="562" y="2615">54</text>
<text x="523" y="2623">55</text><text x="534" y="2623">56</text><text x="545" y="2623">57</text>
</g>
<text x="367" y="2437" class="dt" text-anchor="middle" font-size="18">4–ø3.5</text>
<path d="M341,2439 H395 L470,2512" class="d"/>
<line x1="440" y1="2442" x2="628" y2="2442" class="d" marker-start="url(#ar)" marker-end="url(#ar)"/>
<line x1="440" y1="2437" x2="440" y2="2481" class="d"/>
<line x1="628" y1="2437" x2="628" y2="2481" class="d"/>
<text x="533" y="2440" class="dt" text-anchor="middle" font-size="18">50</text>
<line x1="458" y1="2459" x2="609" y2="2459" class="d" marker-start="url(#ar)" marker-end="url(#ar)"/>
<line x1="458" y1="2455" x2="458" y2="2499" class="d"/>
<line x1="609" y1="2455" x2="609" y2="2499" class="d"/>
<text x="533" y="2457" class="dt" text-anchor="middle" font-size="18">42±0.1</text>
<line x1="396" y1="2481" x2="396" y2="2669" class="d" marker-start="url(#ar)" marker-end="url(#ar)"/>
<line x1="392" y1="2481" x2="440" y2="2481" class="d"/>
<line x1="392" y1="2669" x2="440" y2="2669" class="d"/>
<text transform="translate(394,2575) rotate(-90)" class="dt" text-anchor="middle" font-size="18">52</text>
<line x1="413" y1="2499" x2="413" y2="2649" class="d" marker-start="url(#ar)" marker-end="url(#ar)"/>
<line x1="409" y1="2499" x2="456" y2="2499" class="d"/>
<line x1="409" y1="2649" x2="456" y2="2649" class="d"/>
<text transform="translate(412,2575) rotate(-90)" class="dt" text-anchor="middle" font-size="18">42±0.1</text>
<line x1="456" y1="2520" x2="633" y2="2647" class="d" marker-start="url(#ar)"/>
<text transform="translate(612,2627) rotate(36)" class="dt" font-size="17">ø45</text>
</g>

<!-- ===== Drawing 6 ===== -->
<g>
<line x1="113" y1="2793" x2="636" y2="2793" class="d" marker-start="url(#ar)" marker-end="url(#ar)"/>
<text x="373" y="2789" class="dt" text-anchor="middle" font-size="18">(154)</text>
<line x1="113" y1="2818" x2="495" y2="2818" class="d" marker-start="url(#ar)" marker-end="url(#ar)"/>
<text x="304" y="2813" class="dt" text-anchor="middle" font-size="18">(110)</text>
<line x1="113" y1="2788" x2="113" y2="2937" class="d"/>
<line x1="636" y1="2788" x2="636" y2="2877" class="d"/>
<line x1="495" y1="2813" x2="495" y2="2850" class="d"/>
<line x1="449" y1="2838" x2="503" y2="2838" class="d"/>
<line x1="482" y1="2833" x2="482" y2="2850" class="d"/>
<text x="462" y="2835" class="dt" text-anchor="middle">2.5</text>
<line x1="83" y1="2912" x2="83" y2="3062" class="d" marker-end="url(#ar)"/>
<line x1="103" y1="2850" x2="103" y2="3047" class="d" marker-start="url(#ar)" marker-end="url(#ar)"/>
<text transform="translate(81,2947) rotate(-90)" class="dt" text-anchor="middle" font-size="18">ø60</text>
<text transform="translate(101,2947) rotate(-90)" class="dt" text-anchor="middle" font-size="18">ø52</text>
<line x1="99" y1="2850" x2="446" y2="2850" class="d"/>
<line x1="99" y1="3047" x2="446" y2="3047" class="d"/>
<line x1="79" y1="3062" x2="233" y2="3062" class="d"/>
<rect x="113" y="2938" width="17" height="20" class="o" stroke-width="1.5"/>
<circle cx="121" cy="2948" r="3" class="t"/>
<rect x="130" y="2934" width="8" height="28" class="o" stroke-width="1.5"/>
<rect x="138" y="2873" width="70" height="152" class="o"/>
<path d="M233,2870 L318,2859 M233,3027 C270,3022 290,3038 318,3038" class="o"/>
<rect x="318" y="2859" width="54" height="179" class="o"/>
<use href="#sc" x="355" y="2949"/>
<rect x="372" y="2850" width="49" height="197" fill="url(#kn)" stroke="#1a1a1a" stroke-width="2.4"/>
<rect x="373" y="2993" width="47" height="8" fill="#fff"/>
<line x1="372" y1="2997" x2="456" y2="2997" class="c"/>
<rect x="421" y="2858" width="28" height="182" class="o"/>
<rect x="442" y="2850" width="7" height="197" rx="3" fill="#111"/>
<circle cx="432" cy="2997" r="5" class="t" fill="#fff"/>
<rect x="449" y="2860" width="33" height="177" class="o"/>
<rect x="482" y="2850" width="13" height="197" class="ow"/>
<rect x="496" y="2861" width="68" height="176" fill="url(#kn)" stroke="#1a1a1a" stroke-width="2.4"/>
<polygon points="564,2861 613,2877 613,3019 564,3037" class="o"/>
<rect x="613" y="2877" width="23" height="142" rx="7" class="ow"/>
<path d="M616,2903 V2993 M633,2903 V2993" class="t"/>
<path d="M616,2903 H633 M616,2993 H633" stroke="#111" stroke-width="2.5"/>
<use href="#hx" x="624" y="2889"/><use href="#sc" x="624" y="3007"/>
<rect x="208" y="2856" width="25" height="206" rx="5" class="ow"/>
<path d="M212,2882 H229 M212,2923 H229 M212,2953 H229 M212,2994 H229 M212,3023 H229" stroke="#111" stroke-width="2.5"/>
<path d="M212,2882 V2923 M229,2882 V2923 M212,2953 V2994 M229,2953 V2994" class="t"/>
<use href="#sc" x="221" y="2868"/><use href="#sc" x="221" y="2938"/><use href="#sc" x="221" y="3009"/>
<line x1="113" y1="2948" x2="636" y2="2948" class="c"/>
<line x1="657" y1="2903" x2="657" y2="2994" class="d" marker-start="url(#ar)" marker-end="url(#ar)"/>
<line x1="673" y1="2861" x2="673" y2="3037" class="d" marker-start="url(#ar)" marker-end="url(#ar)"/>
<line x1="636" y1="2903" x2="661" y2="2903" class="d"/>
<line x1="636" y1="2994" x2="661" y2="2994" class="d"/>
<line x1="564" y1="2861" x2="678" y2="2861" class="d"/>
<line x1="564" y1="3037" x2="678" y2="3037" class="d"/>
<text transform="translate(655,2950) rotate(-90)" class="dt" text-anchor="middle" font-size="18">ø24</text>
<text transform="translate(672,2950) rotate(-90)" class="dt" text-anchor="middle" font-size="18">ø45</text>
</g>
</svg>
</body></html>
